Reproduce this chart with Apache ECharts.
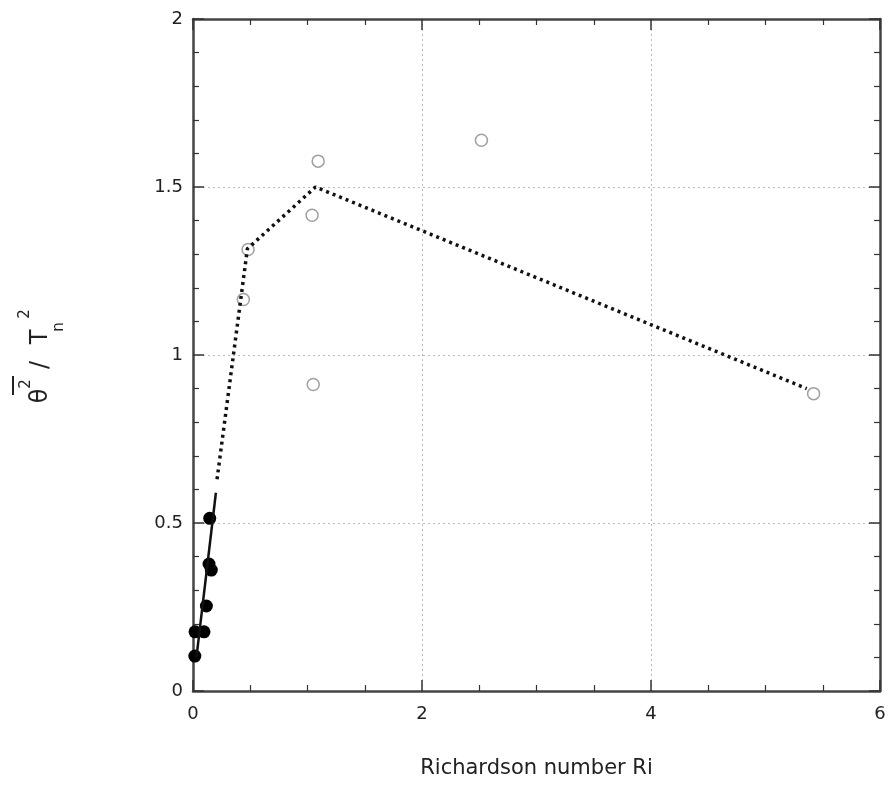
<!DOCTYPE html>
<html>
<head>
<meta charset="utf-8">
<script src="https://cdn.jsdelivr.net/npm/echarts@6/dist/echarts.min.js"></script>
<style>
  html, body { margin: 0; padding: 0; background: #fff; }
  #chart { width: 890px; height: 811px; }
</style>
</head>
<body>
<div id="chart"></div>
<script>
// filled points (low Ri)
const filledPts = [
  [0.016, 0.104], [0.018, 0.176], [0.096, 0.176], [0.117, 0.253],
  [0.14, 0.378], [0.16, 0.36], [0.146, 0.514]
];
// open points
const openPts = [
  [0.44, 1.165], [0.481, 1.314], [1.04, 1.416], [1.093, 1.577],
  [1.05, 0.912], [2.519, 1.639], [5.42, 0.885]
];
// solid fit line
const solidLine = [[0.03, 0.1], [0.2, 0.59]];
// dotted curve
const dottedLine = [[0.21, 0.63], [0.475, 1.316], [1.07, 1.5], [5.36, 0.9]];

const xTicks = [0, 6, 2];   // min, max, interval
const yTicks = [0, 2, 0.5];

const fontFam = 'DejaVu Sans';
const frame = { show: true, onZero: false, lineStyle: { color: '#444', width: 2.5 } };
const grid = { show: true, lineStyle: { color: '#bbb', type: [2, 3], width: 1 } };

function axis(pos, min, max, step, minorN, labels) {
  return {
    type: 'value', position: pos, min: min, max: max, interval: step,
    axisLine: frame,
    axisTick: { show: true, inside: true, length: 11, lineStyle: { color: '#333', width: 1.5 } },
    minorTick: { show: true, splitNumber: minorN, length: 6, lineStyle: { color: '#333', width: 1.2 } },
    splitLine: labels ? grid : { show: false },
    axisLabel: labels ? { show: true, color: '#222', fontSize: 18, fontFamily: fontFam, margin: pos === 'bottom' ? 14 : 10 } : { show: false }
  };
}

const chart = echarts.init(document.getElementById('chart'));

const xb = axis('bottom', xTicks[0], xTicks[1], xTicks[2], 4, true);
xb.name = 'Richardson number Ri';
xb.nameLocation = 'middle';
xb.nameGap = 67;
xb.nameTextStyle = { color: '#222', fontSize: 21, fontFamily: fontFam };

function ylab(txt, x, y, size) {
  return { type: 'text', x: x, y: y, rotation: Math.PI / 2,
    style: { text: txt, font: size + 'px DejaVu Sans', fill: '#222', align: 'center', verticalAlign: 'middle' } };
}

const option = {
  animation: false,
  grid: { left: 193, right: 10, top: 19, bottom: 120 },
  xAxis: [xb, axis('top', xTicks[0], xTicks[1], xTicks[2], 4, false)],
  yAxis: [axis('left', yTicks[0], yTicks[1], yTicks[2], 5, true),
          axis('right', yTicks[0], yTicks[1], yTicks[2], 5, false)],
  graphic: [
    { type: 'line', shape: { x1: 13, y1: 376, x2: 13, y2: 395 }, style: { stroke: '#222', lineWidth: 2 } },
    ylab('θ', 41, 396, 24),
    ylab('2', 26, 384, 15),
    ylab('/', 41, 365, 24),
    ylab('T', 41, 337, 24),
    ylab('n', 59, 327, 15),
    ylab('2', 25, 314, 15)
  ],
  series: [
    {
      type: 'line', data: dottedLine, symbol: 'none',
      lineStyle: { color: '#111', width: 3.5, type: [3, 4] }
    },
    {
      type: 'line', data: solidLine, symbol: 'none',
      lineStyle: { color: '#111', width: 2.5 }
    },
    {
      type: 'scatter', data: openPts, symbol: 'circle', symbolSize: 12,
      itemStyle: { color: 'rgba(255,255,255,0)', borderColor: '#888', borderWidth: 1.5 }
    },
    {
      type: 'scatter', data: filledPts, symbol: 'circle', symbolSize: 13,
      itemStyle: { color: '#000', opacity: 1 }
    }
  ]
};

chart.setOption(option);
window.addEventListener('resize', function () { chart.resize(); });
</script>
</body>
</html>
